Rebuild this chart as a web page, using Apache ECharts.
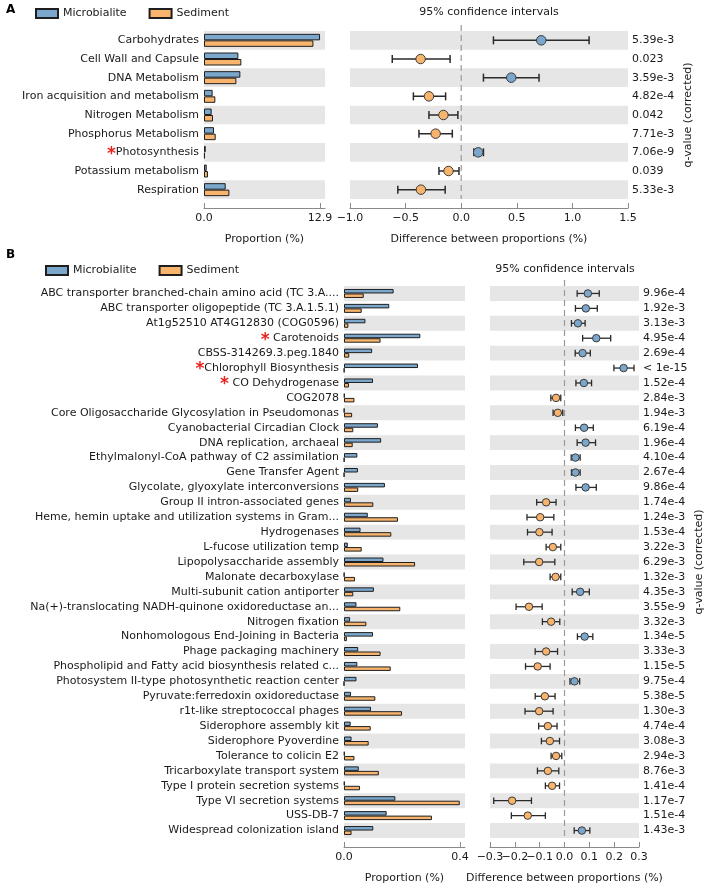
<!DOCTYPE html>
<html><head><meta charset="utf-8">
<script src="https://cdn.jsdelivr.net/npm/echarts@6/dist/echarts.min.js"></script>
<style>html,body{margin:0;padding:0;background:#fff}#c{width:708px;height:889px}</style>
</head><body><div id="c"></div>
<script>
// ---------- Panel A data ----------
const catsA = ['Carbohydrates','Cell Wall and Capsule','DNA Metabolism','Iron acquisition and metabolism','Nitrogen Metabolism','Phosphorus Metabolism','*Photosynthesis','Potassium metabolism','Respiration'];
const microA = [12.9,3.82,4.04,0.96,0.85,1.11,0.19,0.30,2.41];
const sedA   = [12.16,4.15,3.60,1.26,1.00,1.30,0.10,0.44,2.82];
const diffA  = [0.72,-0.365,0.45,-0.29,-0.16,-0.23,0.153,-0.114,-0.362];
const lowA   = [0.29,-0.62,0.20,-0.43,-0.29,-0.38,0.114,-0.20,-0.57];
const highA  = [1.15,-0.10,0.70,-0.14,-0.03,-0.08,0.20,-0.02,-0.144];
const qA     = ['5.39e-3','0.023','3.59e-3','4.82e-4','0.042','7.71e-3','7.06e-9','0.039','5.33e-3'];
const propTicksA = [0, 12.9];
const propMaxA = 13.45;
const diffTicksA = [-1.0, -0.5, 0.0, 0.5, 1.0, 1.5];

// ---------- Panel B data ----------
const catsB = [
'ABC transporter branched-chain amino acid (TC 3.A....',
'ABC transporter oligopeptide (TC 3.A.1.5.1)',
'At1g52510 AT4G12830 (COG0596)',
'* Carotenoids',
'CBSS-314269.3.peg.1840',
'*Chlorophyll Biosynthesis',
'* CO Dehydrogenase',
'COG2078',
'Core Oligosaccharide Glycosylation in Pseudomonas',
'Cyanobacterial Circadian Clock',
'DNA replication, archaeal',
'Ethylmalonyl-CoA pathway of C2 assimilation',
'Gene Transfer Agent',
'Glycolate, glyoxylate interconversions',
'Group II intron-associated genes',
'Heme, hemin uptake and utilization systems in Gram...',
'Hydrogenases',
'L-fucose utilization temp',
'Lipopolysaccharide assembly',
'Malonate decarboxylase',
'Multi-subunit cation antiporter',
'Na(+)-translocating NADH-quinone oxidoreductase an...',
'Nitrogen fixation',
'Nonhomologous End-Joining in Bacteria',
'Phage packaging machinery',
'Phospholipid and Fatty acid biosynthesis related c...',
'Photosystem II-type photosynthetic reaction center',
'Pyruvate:ferredoxin oxidoreductase',
'r1t-like streptococcal phages',
'Siderophore assembly kit',
'Siderophore Pyoverdine',
'Tolerance to colicin E2',
'Tricarboxylate transport system',
'Type I protein secretion systems',
'Type VI secretion systems',
'USS-DB-7',
'Widespread colonization island'];
const microB = [0.171,0.156,0.074,0.263,0.097,0.255,0.100,0.002,0.001,0.117,0.128,0.046,0.048,0.141,0.024,0.082,0.057,0.013,0.136,0.001,0.103,0.043,0.021,0.100,0.049,0.046,0.043,0.024,0.093,0.023,0.026,0.002,0.051,0.002,0.177,0.147,0.101];
const sedB   = [0.068,0.061,0.015,0.126,0.018,0.001,0.017,0.036,0.028,0.032,0.030,0.001,0.0005,0.049,0.101,0.186,0.163,0.061,0.245,0.038,0.032,0.194,0.077,0.010,0.126,0.161,0.0,0.108,0.200,0.092,0.085,0.036,0.120,0.055,0.399,0.303,0.026];
const diffB  = [0.094,0.086,0.054,0.128,0.073,0.238,0.078,-0.034,-0.027,0.079,0.085,0.044,0.044,0.085,-0.074,-0.098,-0.101,-0.047,-0.102,-0.036,0.063,-0.143,-0.054,0.081,-0.074,-0.108,0.040,-0.079,-0.102,-0.067,-0.059,-0.034,-0.067,-0.050,-0.211,-0.148,0.070];
const lowB   = [0.051,0.044,0.028,0.073,0.043,0.199,0.046,-0.055,-0.046,0.044,0.051,0.027,0.028,0.046,-0.112,-0.151,-0.149,-0.074,-0.164,-0.058,0.031,-0.195,-0.089,0.052,-0.118,-0.157,0.022,-0.118,-0.159,-0.104,-0.093,-0.054,-0.109,-0.077,-0.285,-0.214,0.039];
const highB  = [0.140,0.132,0.083,0.186,0.104,0.280,0.109,-0.015,-0.007,0.116,0.125,0.063,0.063,0.128,-0.034,-0.043,-0.050,-0.015,-0.039,-0.015,0.100,-0.090,-0.019,0.114,-0.028,-0.058,0.061,-0.038,-0.046,-0.030,-0.020,-0.011,-0.023,-0.020,-0.133,-0.077,0.102];
const qB = ['9.96e-4','1.92e-3','3.13e-3','4.95e-4','2.69e-4','< 1e-15','1.52e-4','2.84e-3','1.94e-3','6.19e-4','1.96e-4','4.10e-4','2.67e-4','9.86e-4','1.74e-4','1.24e-3','1.53e-4','3.22e-3','6.29e-3','1.32e-3','4.35e-3','3.55e-9','3.32e-3','1.34e-5','3.33e-3','1.15e-5','9.75e-4','5.38e-5','1.30e-3','4.74e-4','3.08e-3','2.94e-3','8.76e-3','1.41e-4','1.17e-7','1.51e-4','1.43e-3'];
const propTicksB = [0, 0.4];
const propMaxB = 0.417;
const diffTicksB = [-0.3, -0.2, -0.1, 0.0, 0.1, 0.2, 0.3];

const seriesNames = ['Microbialite','Sediment'];

// ---------- styling ----------
const FONT = 'DejaVu Sans';
const BLUE = '#7ba7cc', ORANGE = '#f8b46c', EDGE = '#1e1e1e', BAND = '#e6e6e6', AXIS = '#8a8a8a', TXT = '#1a1a1a';
const fmtMinus = v => (v < -1e-9 ? '\u2212' : '') + Math.abs(v).toFixed(1);

const panels = [
  {cats:catsA, micro:microA, sed:sedA, diff:diffA, low:lowA, high:highA, q:qA, ticks:propTicksA, pmax:propMaxA,
   dticks:diffTicksA,
   barGrid:{left:204, top:31, width:121, height:168}, ciGrid:{left:350, top:31, width:278, height:168},
   barW:6.5, sym:9.5, cap:4, lw:1.5, qGap:55},
  {cats:catsB, micro:microB, sed:sedB, diff:diffB, low:lowB, high:highB, q:qB, ticks:propTicksB, pmax:propMaxB,
   dticks:diffTicksB,
   barGrid:{left:344, top:286, width:121, height:558}, ciGrid:{left:490, top:286, width:149, height:558},
   barW:4.5, sym:7.5, cap:3.3, lw:1.3, qGap:55}
];

const grid = [], xAxis = [], yAxis = [], series = [];
const labelRich = {star:{color:'#e8231e', fontSize:17, fontWeight:'bold', fontFamily:FONT, padding:[4,0,0,0]}, t:{fontSize:11, color:TXT, fontFamily:FONT}};

panels.forEach((p, pi) => {
  const gb = grid.length;
  grid.push(p.barGrid, p.ciGrid);
  const commonX = {
    gridIndex: 0, type:'value', position:'bottom', offset:9,
    axisLine:{show:true, lineStyle:{color:AXIS, width:1}},
    axisTick:{show:true, inside:true, length:5, lineStyle:{color:AXIS}},
    splitLine:{show:false},
    axisLabel:{color:TXT, fontSize:11, fontFamily:FONT, margin:5, hideOverlap:false, showMinLabel:true, showMaxLabel:true},
    nameLocation:'middle', nameGap:26, nameTextStyle:{color:TXT, fontSize:11, fontFamily:FONT}
  };
  const xBar = xAxis.length;
  xAxis.push(Object.assign({}, commonX, {
    gridIndex: gb, min:0, max:p.pmax, name:'Proportion (%)',
    axisTick:Object.assign({}, commonX.axisTick, {customValues:p.ticks}),
    axisLabel:Object.assign({}, commonX.axisLabel, {customValues:p.ticks, formatter:v => v.toFixed(1)})
  }));
  const dmin = p.dticks[0], dmax = p.dticks[p.dticks.length - 1];
  const evenTicks = p.dticks.filter((v, i) => i % 2 === 0);
  const oddTicks = p.dticks.filter((v, i) => i % 2 === 1);
  const xCi = xAxis.length;
  xAxis.push(Object.assign({}, commonX, {
    gridIndex: gb+1, min:dmin, max:dmax, name:'Difference between proportions (%)',
    axisTick:Object.assign({}, commonX.axisTick, {customValues:p.dticks}),
    axisLabel:Object.assign({}, commonX.axisLabel, {customValues:evenTicks, formatter:fmtMinus})
  }));
  // companion axis carrying the in-between labels (avoids label-overlap culling)
  xAxis.push(Object.assign({}, commonX, {
    gridIndex: gb+1, min:dmin, max:dmax, name:'',
    axisLine:{show:false}, axisTick:{show:false},
    axisLabel:Object.assign({}, commonX.axisLabel, {customValues:oddTicks, formatter:fmtMinus})
  }));
  const commonY = {
    type:'category', data:p.cats, inverse:true,
    axisLine:{show:false}, axisTick:{show:false}, splitLine:{show:false},
    splitArea:{show:true, areaStyle:{color:[BAND, 'rgba(255,255,255,0)']}}
  };
  const yBar = yAxis.length;
  yAxis.push(Object.assign({}, commonY, {
    gridIndex: gb,
    axisLabel:{margin:5, interval:0, fontSize:11, color:TXT, fontFamily:FONT, rich:labelRich,
      formatter: v => v.charAt(0) === '*' ? '{star|*}{t|' + v.slice(1) + '}' : '{t|' + v + '}'}
  }));
  const yCi = yAxis.length;
  yAxis.push(Object.assign({}, commonY, {
    gridIndex: gb+1, position:'right',
    axisLabel:{margin:4, interval:0, fontSize:11, color:TXT, fontFamily:FONT, formatter:(v, i) => p.q[i]},
    name:'q-value (corrected)', nameLocation:'middle', nameRotate:90, nameGap:p.qGap,
    nameTextStyle:{color:TXT, fontSize:11, fontFamily:FONT}
  }));
  [p.micro, p.sed].forEach((arr, si) => {
    series.push({
      type:'bar', name:seriesNames[si], xAxisIndex:xBar, yAxisIndex:yBar, data:arr,
      barWidth:p.barW, barGap:'0%',
      itemStyle:{color: si === 0 ? BLUE : ORANGE, borderColor:EDGE, borderWidth:1},
      silent:true
    });
  });
  // zero dashed line
  series.push({
    type:'custom', xAxisIndex:xCi, yAxisIndex:yCi, data:[[0, 0]], silent:true, z:1,
    renderItem:(params, api) => {
      const cs = params.coordSys;
      const x = api.coord([0, 0])[0];
      return {type:'line', shape:{x1:x, y1:cs.y - 6, x2:x, y2:cs.y + cs.height},
        style:{stroke:'#9a9a9a', lineWidth:1.2, lineDash:[6,4]}};
    }
  });
  // error bars
  series.push({
    type:'custom', xAxisIndex:xCi, yAxisIndex:yCi, silent:true, z:3,
    data:p.cats.map((c, i) => [i, p.low[i], p.high[i]]),
    encode:{y:0, x:[1,2]},
    renderItem:(params, api) => {
      const i = api.value(0);
      const a = api.coord([api.value(1), i]);
      const b = api.coord([api.value(2), i]);
      const st = {stroke:'#2a2a2a', lineWidth:p.lw};
      return {type:'group', children:[
        {type:'line', shape:{x1:a[0], y1:a[1], x2:b[0], y2:b[1]}, style:st},
        {type:'line', shape:{x1:a[0], y1:a[1]-p.cap, x2:a[0], y2:a[1]+p.cap}, style:st},
        {type:'line', shape:{x1:b[0], y1:b[1]-p.cap, x2:b[0], y2:b[1]+p.cap}, style:st}
      ]};
    }
  });
  // points
  series.push({
    type:'scatter', xAxisIndex:xCi, yAxisIndex:yCi, silent:true, z:5,
    symbolSize:p.sym,
    data:p.diff.map((d, i) => ({value:[d, i], itemStyle:{color: d >= 0 ? BLUE : ORANGE, borderColor:'#3a3a3a', borderWidth:1, opacity:1}}))
  });
});

const chart = echarts.init(document.getElementById('c'), null, {renderer:'canvas'});
chart.setOption({
  animation:false,
  backgroundColor:'#fff',
  textStyle:{fontFamily:FONT},
  grid, xAxis, yAxis, series,
  legend:[
    {data:seriesNames, left:30, top:3, itemWidth:22, itemHeight:9, itemGap:22, icon:'rect',
     textStyle:{fontSize:11, color:TXT, fontFamily:FONT}, selectedMode:false},
    {data:seriesNames, left:40, top:260, itemWidth:22, itemHeight:9, itemGap:22, icon:'rect',
     textStyle:{fontSize:11, color:TXT, fontFamily:FONT}, selectedMode:false}
  ],
  graphic:[
    {type:'text', left:6, top:4, style:{text:'A', font:'bold 12px DejaVu Sans', fill:'#000'}},
    {type:'text', left:6, top:249, style:{text:'B', font:'bold 12px DejaVu Sans', fill:'#000'}},
    {type:'text', x:489, y:12, style:{text:'95% confidence intervals', font:'11px DejaVu Sans', fill:TXT, align:'center', verticalAlign:'middle'}},
    {type:'text', x:565, y:269, style:{text:'95% confidence intervals', font:'11px DejaVu Sans', fill:TXT, align:'center', verticalAlign:'middle'}}
  ]
});
</script>
</body></html>
